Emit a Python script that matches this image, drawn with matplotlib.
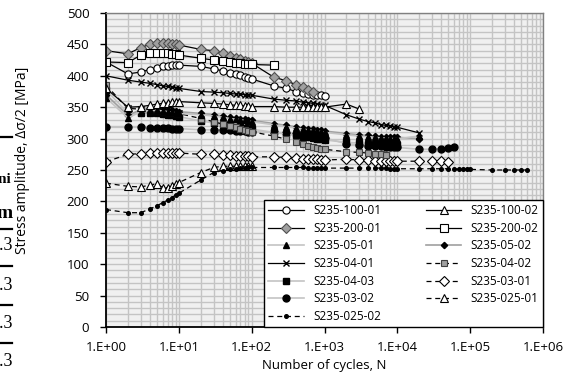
import numpy as np
import matplotlib
matplotlib.use("Agg")
import matplotlib.pyplot as plt
from matplotlib.lines import Line2D
from matplotlib.ticker import FixedLocator, FuncFormatter, MultipleLocator, LogLocator

plt.rcParams['font.family'] = ['Open Sans', 'DejaVu Sans']

# cycle counts used by the test logs
d1 = [1, 2, 3, 4, 5, 6, 7, 8, 9, 10]
d2 = [20, 30, 40, 50, 60, 70, 80, 90, 100]
d3 = [200, 300, 400, 500, 600, 700, 800, 900, 1000]
d4 = [2000, 3000, 4000, 5000, 6000, 7000, 8000, 9000, 10000]
d5 = [20000, 30000, 40000, 50000, 60000, 70000, 80000, 90000, 100000]
d6 = [200000, 300000, 400000, 500000, 600000]

# stress amplitude readings [MPa]
n_100_01 = d1 + d2 + d3
s_100_01 = [422, 403, 406, 410, 413, 415, 416, 417, 417, 417,
            415, 411, 408, 405, 403, 401, 398, 397, 395,
            384, 380, 375, 372, 371, 370, 369, 369, 368]

n_100_02 = d1 + d2 + d3 + [2000, 3000]
s_100_02 = [380, 350, 351, 353, 355, 356, 357, 358, 358, 359,
            357, 356, 355, 354, 353, 353, 352, 352, 351,
            351, 350, 350, 350, 350, 350, 350, 350, 350,
            355, 347]

n_200_01 = d1 + d2 + [200, 300, 400, 500, 600, 700]
s_200_01 = [440, 435, 445, 450, 452, 452, 452, 451, 450, 449,
            442, 440, 436, 432, 428, 426, 424, 422, 420,
            398, 392, 386, 382, 378, 375]

n_200_02 = d1 + d2 + [200]
s_200_02 = [422, 421, 433, 436, 437, 437, 436, 435, 434, 433,
            428, 425, 424, 422, 421, 420, 419, 418, 418,
            417]

n_05_01 = d1 + d2 + d3 + d4 + [20000]
s_05_01 = [365, 333, 343, 345, 345, 344, 343, 342, 341, 340,
           338, 336, 334, 332, 331, 330, 329, 328, 327,
           322, 319, 317, 315, 314, 313, 312, 311, 310,
           306, 304, 303, 302, 301, 301, 300, 300, 300,
           304]

n_05_02 = d1 + d2 + d3 + d4 + [20000]
s_05_02 = [370, 337, 346, 348, 348, 347, 346, 345, 344, 343,
           340, 338, 336, 334, 333, 332, 331, 330, 329,
           324, 321, 319, 317, 316, 315, 314, 313, 312,
           308, 306, 305, 304, 303, 303, 302, 302, 302,
           300]

n_04_01 = d1 + d2 + d3 + d4 + [20000]
s_04_01 = [400, 393, 390, 388, 386, 384, 383, 382, 381, 380,
           375, 374, 373, 372, 371, 371, 370, 370, 369,
           363, 361, 360, 358, 357, 356, 355, 354, 353,
           338, 331, 327, 325, 322, 321, 320, 319, 318,
           309]

n_04_02 = d1 + d2 + d3 + [2000, 3000, 4000, 5000, 6000, 7000]
s_04_02 = [385, 348, 347, 346, 345, 344, 343, 342, 341, 340,
           332, 327, 323, 320, 318, 316, 314, 312, 311,
           304, 299, 295, 291, 288, 286, 285, 284, 283,
           279, 278, 277, 276, 275, 274]

n_04_03 = d1 + d2 + d3 + d4
s_04_03 = [378, 340, 341, 341, 340, 339, 338, 337, 336, 335,
           328, 325, 323, 321, 319, 318, 317, 316, 315,
           310, 307, 305, 303, 302, 301, 300, 299, 298,
           294, 293, 292, 292, 291, 291, 290, 290, 290]

n_03_01 = d1 + d2 + d3 + d4 + [20000, 30000, 40000, 50000]
s_03_01 = [263, 275, 276, 277, 277, 277, 277, 277, 277, 277,
           275, 275, 274, 274, 273, 273, 272, 272, 271,
           271, 270, 269, 268, 268, 267, 267, 266, 266,
           267, 266, 266, 265, 265, 265, 264, 264, 264,
           264, 264, 264, 262]

n_03_02 = d1 + d2 + d3 + d4 + [20000, 30000, 40000, 50000, 60000]
s_03_02 = [318, 318, 318, 317, 317, 317, 317, 316, 316, 316,
           314, 314, 313, 313, 312, 312, 312, 311, 311,
           310, 309, 307, 306, 305, 304, 303, 302, 301,
           292, 290, 289, 288, 288, 287, 287, 287, 286,
           283, 283, 284, 285, 286]

n_025_01 = d1 + d2
s_025_01 = [229, 224, 223, 226, 228, 222, 222, 224, 228, 230,
            246, 254, 256, 256, 256, 256, 256, 256, 256]

n_025_02 = d1 + d2 + d3 + d4 + d5 + d6
s_025_02 = [187, 182, 182, 188, 193, 198, 202, 206, 210, 213,
            234, 246, 249, 251, 252, 253, 253, 254, 254,
            254, 254, 254, 254, 253, 253, 253, 253, 253,
            253, 253, 253, 253, 253, 253, 252, 252, 252,
            252, 252, 252, 252, 252, 251, 251, 251, 251,
            250, 250, 250, 250, 250]

fig = plt.figure(figsize=(5.68, 3.80), dpi=100)
ax = fig.add_axes([106/568, 1-327/380, 437/568, 314/380])
ax.set_facecolor('#f0f0f0')

blk = 'black'
lgray = '#c4c4c4'
mgray = '#a0a0a0'
dash = (0, (4, 3))

series = {}
series['S235-025-01'] = ax.plot(n_025_01, s_025_01, ls=dash, lw=0.9, color=blk, marker='^', ms=5.2, mfc='white', mec=blk, mew=0.8)[0]
series['S235-025-02'] = ax.plot(n_025_02, s_025_02, ls=dash, lw=0.9, color=blk, marker='o', ms=2.6, mfc=blk, mec=blk)[0]
series['S235-03-01'] = ax.plot(n_03_01, s_03_01, ls=dash, lw=0.9, color=blk, marker='D', ms=4.8, mfc='white', mec=blk, mew=0.8)[0]
series['S235-03-02'] = ax.plot(n_03_02, s_03_02, ls='-', lw=1.2, color=lgray, marker='o', ms=5, mfc=blk, mec=blk)[0]
series['S235-04-03'] = ax.plot(n_04_03, s_04_03, ls='-', lw=1.2, color=lgray, marker='s', ms=4, mfc=blk, mec=blk)[0]
series['S235-04-02'] = ax.plot(n_04_02, s_04_02, ls=dash, lw=0.9, color=blk, marker='s', ms=5, mfc=mgray, mec='#404040', mew=0.8)[0]
series['S235-05-02'] = ax.plot(n_05_02, s_05_02, ls='-', lw=1.2, color=mgray, marker='D', ms=3.2, mfc=blk, mec=blk)[0]
series['S235-05-01'] = ax.plot(n_05_01, s_05_01, ls='-', lw=1.2, color=lgray, marker='^', ms=4, mfc=blk, mec=blk)[0]
series['S235-04-01'] = ax.plot(n_04_01, s_04_01, ls='-', lw=0.9, color=blk, marker='x', ms=4.5, mec=blk, mew=1.0)[0]
series['S235-100-02'] = ax.plot(n_100_02, s_100_02, ls='-', lw=0.9, color=blk, marker='^', ms=5.2, mfc='white', mec=blk, mew=0.8)[0]
series['S235-100-01'] = ax.plot(n_100_01, s_100_01, ls='-', lw=0.9, color=blk, marker='o', ms=5.2, mfc='white', mec=blk, mew=0.8)[0]
series['S235-200-01'] = ax.plot(n_200_01, s_200_01, ls='-', lw=0.9, color=blk, marker='D', ms=4.8, mfc=mgray, mec='#505050', mew=0.8)[0]
series['S235-200-02'] = ax.plot(n_200_02, s_200_02, ls='-', lw=0.9, color=blk, marker='s', ms=5.2, mfc='white', mec=blk, mew=0.8)[0]

ax.set_xscale('log')
ax.set_xlim(1, 1e6)
ax.set_ylim(0, 500)
ax.yaxis.set_major_locator(MultipleLocator(50))
ax.yaxis.set_minor_locator(MultipleLocator(10))
ax.xaxis.set_major_locator(FixedLocator([10**k for k in range(7)]))
ax.xaxis.set_minor_locator(LogLocator(base=10, subs=np.arange(2, 10), numticks=20))
ax.xaxis.set_major_formatter(FuncFormatter(lambda v, p: "1.E+%02d" % int(round(np.log10(v)))))
ax.grid(True, which='both', color='#c4c4c4', lw=1.0)
ax.set_axisbelow(True)
ax.tick_params(which='major', length=4, width=1, labelsize=9.5, direction='out', color=blk)
ax.tick_params(axis='y', pad=8)
ax.tick_params(axis='x', pad=6)
ax.tick_params(which='minor', length=0)
for s in ['left', 'bottom']:
    ax.spines[s].set_color(blk)
    ax.spines[s].set_linewidth(1.3)
for s in ['top', 'right']:
    ax.spines[s].set_color('#808080')
    ax.spines[s].set_linewidth(1.0)

ax.set_xlabel("Number of cycles, N", fontsize=9.5, labelpad=4)
ax.set_ylabel("Stress amplitude, Δσ/2 [MPa]", fontsize=10)
ax.yaxis.set_label_coords(-0.175, 0.53)

order = ['S235-100-01', 'S235-200-01', 'S235-05-01', 'S235-04-01', 'S235-04-03', 'S235-03-02', 'S235-025-02',
         'S235-100-02', 'S235-200-02', 'S235-05-02', 'S235-04-02', 'S235-03-01', 'S235-025-01']
leg = ax.legend([series[k] for k in order], order, ncol=2, loc='lower left',
                bbox_to_anchor=((264-106)/437, 0, (543-264)/437, 0.4), mode='expand',
                borderaxespad=0, fontsize=8.5, handlelength=3.0, labelspacing=0.39,
                fancybox=False, framealpha=1, edgecolor=blk, borderpad=0.35)
leg.get_frame().set_linewidth(1.0)

# fragment of a neighbouring table, cut by the image edge
ser = ['Liberation Serif', 'DejaVu Serif']
fig.text(11/568, 1-180/380, "Uni", ha='right', va='center', family=ser, fontsize=11, fontweight='bold')
fig.text(13/568, 1-213/380, "m", ha='right', va='center', family=ser, fontsize=14, fontweight='bold')
for yy in [245, 285, 324, 362]:
    fig.text(13/568, 1-yy/380, "1.3", ha='right', va='center', family=ser, fontsize=13)
for yy in [137, 229, 266, 305, 343]:
    fig.add_artist(Line2D([0, 12/568], [1-yy/380, 1-yy/380], color=blk, lw=1.6))

fig.savefig("out.png", dpi=100)
